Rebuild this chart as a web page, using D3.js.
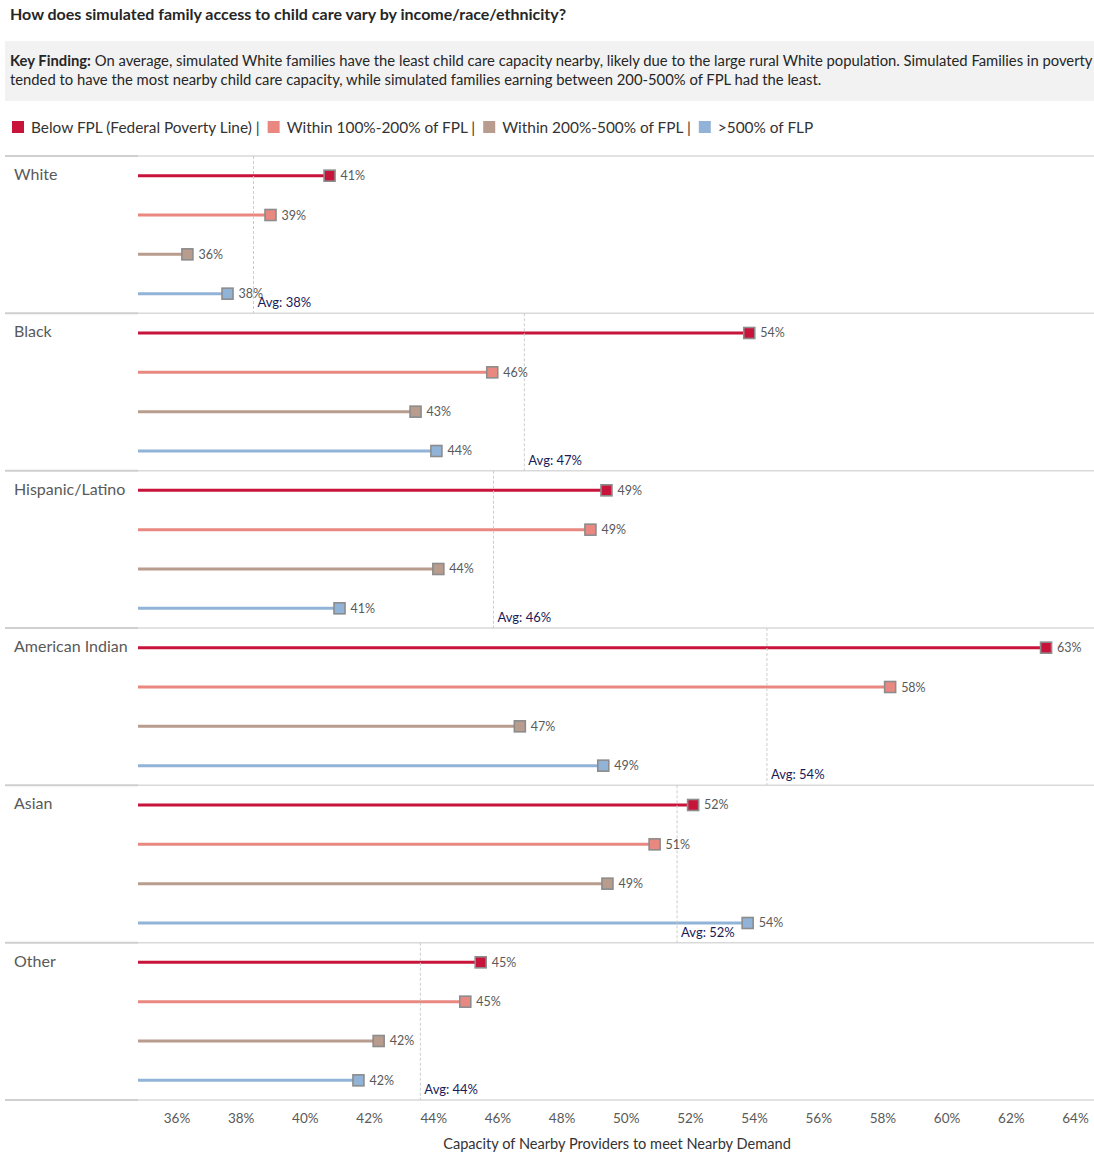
<!DOCTYPE html>
<html>
<head>
<meta charset="utf-8">
<script src="https://cdn.jsdelivr.net/npm/d3@7"></script>
<style>
  html, body { margin: 0; padding: 0; background: #fff; }
  svg { display: block; font-family: Lato, "Open Sans", sans-serif; }
</style>
</head>
<body>
<svg id="chart" width="1094" height="1154"></svg>
<script>
// ---- data ----
const categories = ["White", "Black", "Hispanic/Latino", "American Indian", "Asian", "Other"];
const seriesNames = ["Below FPL (Federal Poverty Line)", "Within 100%-200% of FPL", "Within 200%-500% of FPL", ">500% of FLP"];
const belowFPL   = [0.4077, 0.5385, 0.4940, 0.6310, 0.5210, 0.4548];
const within100  = [0.3893, 0.4584, 0.4890, 0.5824, 0.5090, 0.4500];
const within200  = [0.3634, 0.4345, 0.4416, 0.4670, 0.4943, 0.4230];
const above500   = [0.3759, 0.4410, 0.4108, 0.4930, 0.5380, 0.4167];
const averages   = [0.3840, 0.4684, 0.4588, 0.5440, 0.5160, 0.4360];
const tickValues = [0.36, 0.38, 0.40, 0.42, 0.44, 0.46, 0.48, 0.50, 0.52, 0.54, 0.56, 0.58, 0.60, 0.62, 0.64];
const seriesColors = ["#c8133b", "#e98880", "#b89c8e", "#92b3d8"];
const titleText = "How does simulated family access to child care vary by income/race/ethnicity?";
const findingLabel = "Key Finding:";
const findingLine1 = " On average, simulated White families have the least child care capacity nearby, likely due to the large rural White population. Simulated Families in poverty";
const findingLine2 = "tended to have the most nearby child care capacity, while simulated families earning between 200-500% of FPL had the least.";
const axisTitle = "Capacity of Nearby Providers to meet Nearby Demand";

const seriesValues = [belowFPL, within100, within200, above500];

const svg = d3.select("#chart");
const W = 1094;

// ---- title ----
svg.append("text").attr("x", 10).attr("y", 20)
  .attr("font-size", 16).attr("font-weight", "bold").attr("fill", "#262626")
  .text(titleText);

// ---- key finding box ----
svg.append("rect").attr("x", 5).attr("y", 41).attr("width", W - 5).attr("height", 60).attr("fill", "#f2f2f2");
const kf1 = svg.append("text").attr("x", 10).attr("y", 66).attr("font-size", 14.8).attr("fill", "#262626");
kf1.append("tspan").attr("font-weight", "bold").text(findingLabel);
kf1.append("tspan").text(findingLine1);
svg.append("text").attr("x", 10).attr("y", 85).attr("font-size", 14.8).attr("fill", "#262626").text(findingLine2);

// ---- legend ----
const legend = svg.append("g").attr("transform", "translate(12,127)");
let lx = 0;
seriesNames.forEach((name, i) => {
  legend.append("rect").attr("x", lx).attr("y", -6).attr("width", 12).attr("height", 12).attr("fill", seriesColors[i]);
  const t = legend.append("text").attr("x", lx + 19).attr("y", 5.5).attr("font-size", 15.4).attr("fill", "#333")
    .text(name + (i < seriesNames.length - 1 ? " |" : ""));
  lx += 19 + t.node().getComputedTextLength() + 8;
});

// ---- scales ----
const x = d3.scaleLinear().domain([0.348, 0.645]).range([138, 1091]);
const panel = d3.scaleBand().domain(categories).range([156, 1100]).padding(0);
const row = d3.scaleBand().domain(seriesNames).range([0, panel.bandwidth()]).padding(0);

// separators
const seps = categories.map(c => panel(c)).concat([1100]);
svg.append("g").selectAll("line").data(seps).join("line")
  .attr("x1", 138).attr("x2", W).attr("y1", d => d).attr("y2", d => d)
  .attr("stroke", "#d9d9d9").attr("stroke-width", 1.5);
svg.append("g").selectAll("line").data(seps).join("line")
  .attr("x1", 5).attr("x2", 138).attr("y1", d => d).attr("y2", d => d)
  .attr("stroke", "#cfcfcf").attr("stroke-width", 2);

// panels
categories.forEach((cat, ci) => {
  const g = svg.append("g").attr("transform", `translate(0,${panel(cat)})`);
  g.append("text").attr("x", 14).attr("y", 24).attr("font-size", 16).attr("fill", "#595959").text(cat);

  seriesNames.forEach((s, si) => {
    const v = seriesValues[si][ci];
    const cy = row(s) + row.bandwidth() / 2;
    g.append("line").attr("x1", x.range()[0]).attr("x2", x(v)).attr("y1", cy).attr("y2", cy)
      .attr("stroke", seriesColors[si]).attr("stroke-width", 3);
  });

  // average line
  const ax = x(averages[ci]);
  g.append("line").attr("x1", ax).attr("x2", ax).attr("y1", 0).attr("y2", panel.bandwidth())
    .attr("stroke", "#cccccc").attr("stroke-width", 1).attr("stroke-dasharray", "3,2");

  seriesNames.forEach((s, si) => {
    const v = seriesValues[si][ci];
    const cy = row(s) + row.bandwidth() / 2;
    g.append("rect").attr("x", x(v) - 5.5).attr("y", cy - 5.5).attr("width", 11).attr("height", 11)
      .attr("fill", seriesColors[si]).attr("stroke", "#8c8c8c").attr("stroke-width", 1.6);
    g.append("text").attr("x", x(v) + 11).attr("y", cy + 4.5).attr("font-size", 12.5).attr("fill", "#595959")
      .text(d3.format(".0%")(v));
  });

  g.append("text").attr("x", ax + 4).attr("y", panel.bandwidth() - 6).attr("font-size", 13)
    .attr("fill", "#1a1a5a").text("Avg: " + d3.format(".0%")(averages[ci]));
});

// ---- axis ----
const axis = d3.axisBottom(x).tickValues(tickValues).tickFormat(d3.format(".0%")).tickSize(0).tickPadding(13);
const ag = svg.append("g").attr("transform", "translate(0,1100)").call(axis);
ag.select(".domain").remove();
ag.selectAll("text").attr("font-size", 13.5).attr("fill", "#595959").attr("font-family", "Lato, 'Open Sans', sans-serif");

svg.append("text").attr("x", 617).attr("y", 1149).attr("text-anchor", "middle")
  .attr("font-size", 14.6).attr("fill", "#333").text(axisTitle);
</script>
</body>
</html>
